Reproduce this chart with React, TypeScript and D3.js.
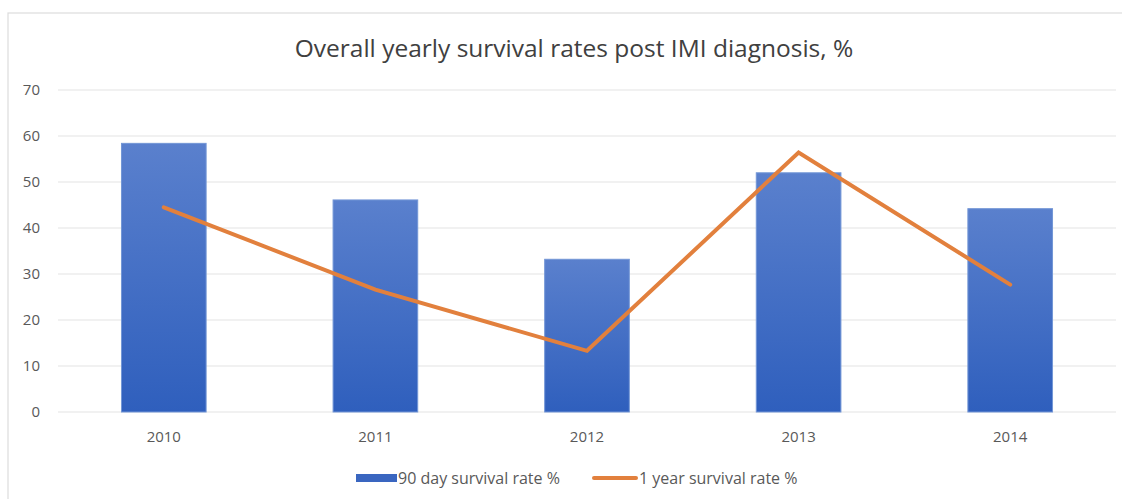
import * as d3 from "d3";
import React from "react";

const years = ["2010", "2011", "2012", "2013", "2014"];
const day90 = [58.4, 46.1, 33.2, 52.0, 44.2];
const year1 = [44.5, 26.6, 13.3, 56.4, 27.7];
const yTicks = [0, 10, 20, 30, 40, 50, 60, 70];
const seriesNames = ["90 day survival rate %", "1 year survival rate %"];

const W = 1122,
  H = 499;
const plot = { left: 58, right: 1116, top: 90, bottom: 412 };
const font = "'Open Sans', 'Liberation Sans', sans-serif";

const App = () => {
  const x = d3
    .scaleBand()
    .domain(years)
    .range([plot.left, plot.right])
    .padding(0);
  const y = d3.scaleLinear().domain([0, 70]).range([plot.bottom, plot.top]);
  const barW = x.bandwidth() * 0.4;
  const cx = (d: string) => (x(d) as number) + x.bandwidth() / 2;

  const line = d3
    .line<number>()
    .x((_, i) => cx(years[i]))
    .y((d) => y(d));

  return (
    <svg
      width={W}
      height={H}
      style={{ position: "absolute", left: 0, top: 0, background: "#fff" }}
      fontFamily={font}
    >
      <defs>
        <linearGradient id="barGrad" x1="0" y1="0" x2="0" y2="1">
          <stop offset="0%" stopColor="#5a80cd" />
          <stop offset="100%" stopColor="#2f5fbd" />
        </linearGradient>
      </defs>
      <rect
        x={8}
        y={13}
        width={W + 10}
        height={H}
        fill="#fff"
        stroke="#dcdcdc"
        strokeWidth={1.2}
      />
      <text
        x={574}
        y={57}
        textAnchor="middle"
        fontSize={24.5}
        fill="#404040"
      >
        Overall yearly survival rates post IMI diagnosis, %
      </text>

      {yTicks.map((t) => (
        <g key={t}>
          <line
            x1={plot.left}
            x2={plot.right}
            y1={y(t)}
            y2={y(t)}
            stroke="#e3e3e3"
            strokeWidth={1.2}
          />
          <text
            x={40}
            y={y(t)}
            dy="0.35em"
            textAnchor="end"
            fontSize={15}
            fill="#595959"
          >
            {t}
          </text>
        </g>
      ))}

      {years.map((yr, i) => (
        <rect
          key={yr}
          x={cx(yr) - barW / 2}
          y={y(day90[i])}
          width={barW}
          height={y(0) - y(day90[i])}
          fill="url(#barGrad)"
          stroke="#7396d6"
          strokeWidth={1}
        />
      ))}

      <path
        d={line(year1) || ""}
        fill="none"
        stroke="#e2803d"
        strokeWidth={4}
        strokeLinecap="round"
        strokeLinejoin="miter"
      />

      {years.map((yr) => (
        <text
          key={yr}
          x={cx(yr)}
          y={437}
          dy="0.35em"
          textAnchor="middle"
          fontSize={15}
          fill="#595959"
        >
          {yr}
        </text>
      ))}

      <g>
        <rect x={356} y={474} width={41} height={8} fill="#3a66c0" />
        <text x={398} y={478} dy="0.35em" fontSize={16} fill="#595959">
          {seriesNames[0]}
        </text>
        <line
          x1={594}
          x2={636}
          y1={478}
          y2={478}
          stroke="#e2803d"
          strokeWidth={4}
          strokeLinecap="round"
        />
        <text x={639} y={478} dy="0.35em" fontSize={16} fill="#595959">
          {seriesNames[1]}
        </text>
      </g>
    </svg>
  );
};

export default App;
